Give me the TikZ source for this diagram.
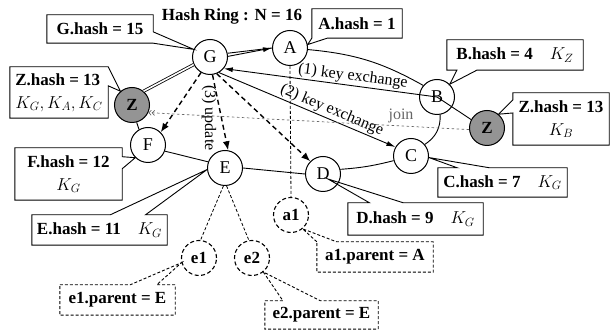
\documentclass[tikz,border=0pt]{standalone}
\usepackage{fontspec}
\setmainfont{Liberation Serif}
\usetikzlibrary{arrows.meta,calc}
\begin{document}
\begin{tikzpicture}[x=1pt,y=1pt,
  peer/.style={circle,draw,line width=1pt,minimum size=35pt,inner sep=0pt,fill=white,
    font=\fontsize{18}{20}\selectfont},
  joiner/.style={peer,fill=black!42,font=\fontsize{17}{19}\selectfont\bfseries},
  leafpeer/.style={peer,dash pattern=on 4pt off 2.5pt,line width=1.1pt,
    font=\fontsize{17}{19}\selectfont\bfseries},
  infobox/.style={inner sep=0pt,font=\fontsize{17}{23}\selectfont\bfseries,align=center},
  tagline/.style={line width=0.9pt,line join=miter},
  dtagline/.style={tagline,dash pattern=on 3pt off 2pt},
  ringline/.style={line width=0.9pt},
  solidarrow/.style={-{Latex[length=9pt,width=5pt]}},
  upd/.style={line width=1.4pt,dash pattern=on 5pt off 3.5pt,-{Latex[length=9pt,width=7pt]}},
  treeline/.style={line width=0.8pt,dash pattern=on 3pt off 2pt},
  joinline/.style={line width=0.7pt,black!60,dash pattern=on 2.5pt off 2.5pt,
    -{Straight Barb[length=2.5pt,width=5pt]Straight Barb[length=2.5pt,width=5pt]}},
  steplabel/.style={font=\fontsize{16}{18}\selectfont,inner sep=1.5pt}
]
\useasboundingbox (0,0) rectangle (611,331);

% ring members, joining node and children
\node[peer] (G) at (210,274) {G};
\node[peer] (A) at (290,283) {A};
\node[peer] (B) at (437,234) {B};
\node[joiner] (Zr) at (487,203) {Z};
\node[peer] (C) at (411,175) {C};
\node[peer] (D) at (323,157) {D};
\node[peer] (E) at (225,163) {E};
\node[peer] (F) at (148,186) {F};
\node[joiner] (Zl) at (132,226) {Z};
\node[leafpeer] (a1) at (291,116) {a1};
\node[leafpeer] (e1) at (199,73) {e1};
\node[leafpeer] (e2) at (252,73) {e2};

\node[font=\fontsize{17}{20}\selectfont\bfseries] (title) at (232,315) {Hash Ring : N = 16};

% information boxes
\node[infobox,minimum width=106pt,minimum height=28pt] (Gh) at (100,302) {G.hash = 15};
\node[infobox,minimum width=90pt,minimum height=29pt] (Ah) at (357,307.5) {A.hash = 1};
\node[infobox,minimum width=136pt,minimum height=30pt] (Bh) at (515,276) {B.hash = 4\quad$K_Z$};
\node[infobox,minimum width=96pt,minimum height=52pt] (Zrh) at (561,212) {Z.hash = 13\\$K_B$};
\node[infobox,minimum width=98pt,minimum height=51pt,align=left] (Zlh) at (59,238.5) {Z.hash = 13\\$K_{G},K_{A},K_{C}$};
\node[infobox,minimum width=107pt,minimum height=52pt] (Fh) at (68.5,157) {F.hash = 12\\$K_G$};
\node[infobox,minimum width=135pt,minimum height=30pt] (Eh) at (99.5,101) {E.hash = 11\quad$K_G$};
\node[infobox,minimum width=129pt,minimum height=29pt] (Ch) at (502.5,148.5) {C.hash = 7\quad$K_G$};
\node[infobox,minimum width=135pt,minimum height=32pt] (Dh) at (415.5,112) {D.hash = 9\quad$K_G$};
\node[infobox,minimum width=116pt,minimum height=30pt] (a1h) at (375,74) {a1.parent = A};
\node[infobox,minimum width=115pt,minimum height=30pt] (e1h) at (117.5,31) {e1.parent = E};
\node[infobox,minimum width=113pt,minimum height=28pt] (e2h) at (321.5,16) {e2.parent = E};

% callout outlines
\draw[tagline] (Gh.north west) -- (Gh.north east) -- ($(Gh.north east)!0.6!(Gh.south east)$)
  -- (G.155) -- (Gh.south east) -- (Gh.south west) -- cycle;
\draw[tagline] (Ah.north west) -- (Ah.north east) -- (Ah.south east)
  -- ($(Ah.south west)!0.17!(Ah.south east)$) -- (A.11) -- (Ah.south west) -- cycle;
\draw[tagline] (Bh.north west) -- (Bh.north east) -- (Bh.south east)
  -- ($(Bh.south west)!0.22!(Bh.south east)$) -- (B.45)
  -- ($(Bh.south west)!0.074!(Bh.south east)$) -- (Bh.south west) -- cycle;
\draw[tagline] (Zrh.north west) -- (Zrh.north east) -- (Zrh.south east) -- (Zrh.south west)
  -- ($(Zrh.north west)!0.385!(Zrh.south west)$) -- (Zr.50)
  -- ($(Zrh.north west)!0.135!(Zrh.south west)$) -- cycle;
\draw[tagline] (Zlh.north west) -- (Zlh.north east) -- (Zl.130)
  -- ($(Zlh.north east)!0.37!(Zlh.south east)$) -- (Zlh.south east) -- (Zlh.south west) -- cycle;
\draw[tagline] (Fh.north west) -- (Fh.north east) -- ($(Fh.north east)!0.17!(Fh.south east)$)
  -- (F.225) -- ($(Fh.north east)!0.4!(Fh.south east)$) -- (Fh.south east) -- (Fh.south west) -- cycle;
\draw[tagline] (Eh.north west) -- ($(Eh.north west)!0.58!(Eh.north east)$) -- (E.185)
  -- ($(Eh.north west)!0.84!(Eh.north east)$) -- (Eh.north east) -- (Eh.south east) -- (Eh.south west) -- cycle;
\draw[tagline] (Ch.north west) -- ($(Ch.north west)!0.15!(Ch.north east)$) -- (C.-5)
  -- ($(Ch.north west)!0.4!(Ch.north east)$) -- (Ch.north east) -- (Ch.south east) -- (Ch.south west) -- cycle;
\coordinate (Dpin) at ($(D.center)+(5,-5)$);
\draw[tagline] (Dh.north west) -- ($(Dh.north west)!0.16!(Dh.north east)$) -- (Dpin)
  -- ($(Dh.north west)!0.41!(Dh.north east)$) -- (Dh.north east) -- (Dh.south east) -- (Dh.south west) -- cycle;
\draw[dtagline] (a1h.north west) -- (a1.-50) -- ($(a1h.north west)!0.17!(a1h.north east)$)
  -- (a1h.north east) -- (a1h.south east) -- (a1h.south west) -- cycle;
\draw[dtagline] (e1h.north west) -- ($(e1h.north west)!0.61!(e1h.north east)$) -- (e1.195)
  -- ($(e1h.north west)!0.84!(e1h.north east)$) -- (e1h.north east) -- (e1h.south east) -- (e1h.south west) -- cycle;
\draw[dtagline] (e2h.north west) -- ($(e2h.north west)!0.16!(e2h.north east)$) -- (e2.-51)
  -- ($(e2h.north west)!0.49!(e2h.north east)$) -- (e2h.north east) -- (e2h.south east) -- (e2h.south west) -- cycle;

% the ring
\draw[ringline] (G.12) -- (A.west);
\draw[ringline,solidarrow] (G.2) -- (A.west);
\draw[ringline] (A.-5) to[bend left=12] (B.140);
\draw[ringline] (B.-80) to[bend left=30] (C.40);
\draw[ringline] (C.195) to[bend left=5] (D.15);
\draw[ringline] (D.west) -- (E.east);
\draw[ringline] (E.160) -- (F.-20);
\draw[ringline] (F.120) -- (Zl.-75);
\draw[line width=0.8pt,double,double distance=1.6pt] (Zl.50) -- (G.205);

% key exchanges
\draw[ringline,solidarrow] (Zr.152) -- (B.center) -- (G.-40);
\path (G.-40) -- (B.center) node[steplabel,sloped,above,pos=0.6] {(1) key exchange};
\draw[ringline,solidarrow] (G.-60) -- (C.150);
\path (G.-60) -- (C.150) node[steplabel,sloped,above,pos=0.62] {(2) key exchange};

% updates
\draw[upd] (G.240) -- (F.45);
\draw[upd] (G.-82) -- (E.80);
\draw[upd] (G.-68) -- (D.135);
\node[steplabel,rotate=-90] (updlbl) at (209,213) {(3) update};

% join
\draw[joinline] (Zr.185) -- (Zl.-25);
\node[steplabel,text=black!60] (joinlbl) at (401,215) {join};

% children
\draw[treeline] (A.south) -- (a1.north);
\draw[treeline] (E.-95) -- (e1.85);
\draw[treeline] (E.-85) -- (e2.100);
\end{tikzpicture}
\end{document}
